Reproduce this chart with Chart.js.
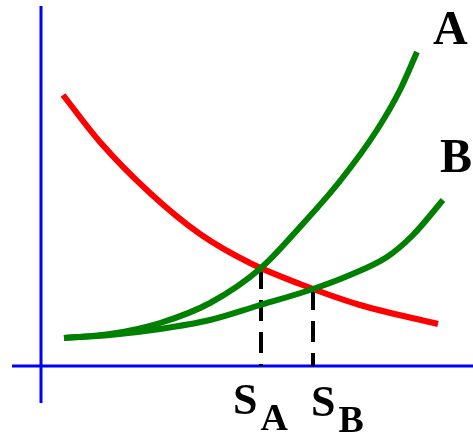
<!DOCTYPE html>
<html>
<head>
<meta charset="utf-8">
<script src="https://cdn.jsdelivr.net/npm/chart.js@4"></script>
<style>
    body { margin: 0; background: #fff; }
    #wrap { width: 473px; height: 437px; position: relative; }
</style>
</head>
<body>
<div id="wrap"><canvas id="supplyChart"></canvas></div>
<script>
// curve values (quantity on x, price on y)
const redX = [0.55, 1.475, 2.725, 3.975, 5.225, 6.475, 7.975, 9.925];
const redY = [6.775, 5.6, 4.325, 3.3, 2.575, 2.05, 1.525, 1.05];

const aX = [0.575, 1.725, 2.975, 4.225, 5.5, 6.475, 7.475, 8.4, 8.975, 9.4];
const aY = [0.7, 0.8, 1.075, 1.575, 2.45, 3.475, 4.625, 5.9, 6.9, 7.85];

const bX = [0.575, 1.725, 2.975, 4.225, 5.4, 6.8, 7.725, 8.65, 9.3, 10.05];
const bY = [0.7, 0.775, 0.925, 1.15, 1.5, 1.925, 2.275, 2.725, 3.275, 4.15];

// equilibrium quantities and their heights
const sA = 5.5, sAy = 2.45;
const sB = 6.8, sBy = 1.925;

// axis extents
const axisXMin = -0.725, axisXMax = 10.8;
const axisYMin = -0.925, axisYMax = 9.0;

const pts = (xs, ys) => xs.map((x, i) => ({ x: x, y: ys[i] }));

const textLabels = [
    { text: 'A', x: 9.8, y: 8.05 },
    { text: 'B', x: 9.975, y: 4.85 }
];
const subLabels = [
    { text: 'S', sub: 'A', x: 4.8, y: -1.2 },
    { text: 'S', sub: 'B', x: 6.75, y: -1.25 }
];

const labelPlugin = {
    id: 'labels',
    afterDatasetsDraw(chart) {
        const ctx = chart.ctx;
        const xs = chart.scales.x, ys = chart.scales.y;
        ctx.save();
        ctx.fillStyle = '#000';
        ctx.textBaseline = 'alphabetic';
        ctx.font = 'bold 48px "Liberation Serif", serif';
        textLabels.forEach(l => {
            ctx.fillText(l.text, xs.getPixelForValue(l.x), ys.getPixelForValue(l.y));
        });
        subLabels.forEach(l => {
            const px = xs.getPixelForValue(l.x), py = ys.getPixelForValue(l.y);
            ctx.font = 'bold 44px "Liberation Serif", serif';
            ctx.fillText(l.text, px, py);
            const w = ctx.measureText(l.text).width;
            ctx.font = 'bold 38px "Liberation Serif", serif';
            ctx.fillText(l.sub, px + w + 3, py + 16);
        });
        ctx.restore();
    }
};

function lineSet(data, color, width, extra) {
    return Object.assign({
        data: data,
        borderColor: color,
        backgroundColor: color,
        borderWidth: width,
        pointRadius: 0,
        fill: false,
        cubicInterpolationMode: 'monotone'
    }, extra || {});
}

const ctx = document.getElementById('supplyChart').getContext('2d');
new Chart(ctx, {
    type: 'line',
    data: {
        datasets: [
            lineSet(pts(aX, aY), '#008000', 6),
            lineSet(pts(bX, bY), '#008000', 6),
            lineSet(pts(redX, redY), '#ff0000', 6),
            lineSet([{ x: sA, y: sAy }, { x: sA, y: 0 }], '#000', 4, { borderDash: [21, 11], cubicInterpolationMode: 'default', tension: 0 }),
            lineSet([{ x: sB, y: sBy }, { x: sB, y: 0 }], '#000', 4, { borderDash: [21, 11], cubicInterpolationMode: 'default', tension: 0 }),
            lineSet([{ x: 0, y: axisYMax }, { x: 0, y: axisYMin }], '#0000ff', 3, { cubicInterpolationMode: 'default', tension: 0 }),
            lineSet([{ x: axisXMin, y: 0 }, { x: axisXMax, y: 0 }], '#0000ff', 3, { cubicInterpolationMode: 'default', tension: 0 })
        ]
    },
    options: {
        responsive: true,
        maintainAspectRatio: false,
        animation: false,
        layout: { padding: 0 },
        plugins: {
            legend: { display: false },
            tooltip: { enabled: false }
        },
        scales: {
            x: { type: 'linear', display: false, min: -1.025, max: 10.8 },
            y: { type: 'linear', display: false, min: -1.775, max: 9.15 }
        }
    },
    plugins: [labelPlugin]
});
</script>
</body>
</html>
